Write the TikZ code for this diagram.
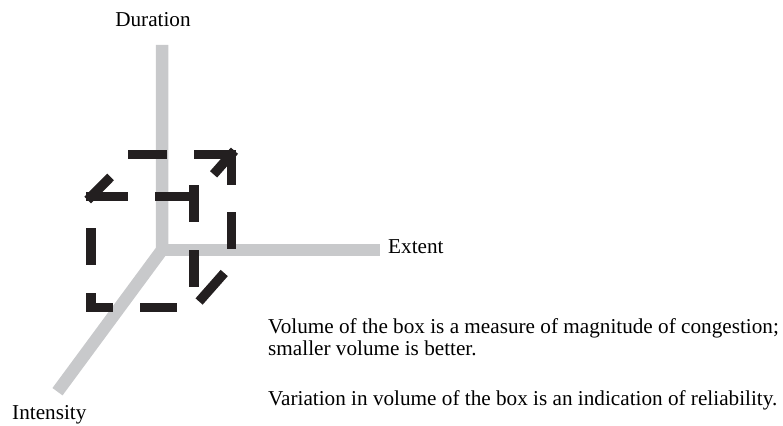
\documentclass[tikz,border=0pt]{standalone}
\usepackage{fontspec}
\setmainfont{Liberation Serif}
\usepackage{tikz}
\pgfdeclarelayer{bg}
\pgfsetlayers{bg,main}
\definecolor{axisgrey}{RGB}{200,201,203}
\definecolor{boxblack}{RGB}{35,31,32}
\tikzset{
    every node/.style={inner sep=0pt, font=\fontsize{21.2}{22}\selectfont}
}
\tikzset{axisbar/.style={draw=axisgrey, line width=12.5pt}}
\tikzset{boxedge/.style={draw=boxblack, line width=9.5pt, line cap=rect}}

\begin{document}
\begin{tikzpicture}[x=1pt, y=-1pt]
        \useasboundingbox (0,0) rectangle (783,425);
        \coordinate (o) at (162,250);
        \coordinate (dtop) at (162,45);
        \coordinate (eend) at (380,250);
        \coordinate (iend) at (57.5,391.7);
        \node (dur) [anchor=base] at (153,27) {Duration};
        \node (ext) [anchor=base west] at (388,253) {Extent};
        \node (int) [anchor=base west] at (12,419.5) {Intensity};
        \node (vol1) [anchor=base west] at (268,333) {Volume of the box is a measure of magnitude of congestion;};
        \node (vol2) [anchor=base west] at (268,355) {smaller volume is better.};
        \node (var) [anchor=base west] at (268,405) {Variation in volume of the box is an indication of reliability.};
        % corners of the box
        \coordinate (ftl) at (91,196.7);
        \coordinate (ftr) at (193.8,196.7);
        \coordinate (fbr) at (193.8,307.5);
        \coordinate (fbl) at (91,307.5);
        \coordinate (btl) at (133,154.3);
        \coordinate (btr) at (231.3,154.3);
        \coordinate (bbr) at (231.3,265);
        \begin{pgfonlayer}{bg}
                \draw [axisbar, line join=miter] (dtop) -- (o) -- (iend);
                \draw [axisbar] (o) -- (eend);
        \end{pgfonlayer}
        \draw (ftl) edge [boxedge, dash pattern=on 32.5pt off 36.25pt on 40pt off 10pt] (ftr);
        \draw ([yshift=7pt]ftr) edge [boxedge, dash pattern=on 27.5pt off 37.5pt on 27.5pt off 40pt] (fbr);
        \draw (fbl) edge [boxedge, dash pattern=on 17.25pt off 36.5pt on 27.5pt off 40pt] (fbr);
        \draw (fbl) edge [boxedge, dash pattern=on 10pt off 37.2pt on 27.5pt off 60pt] (ftl);
        \draw (ftl) edge [boxedge, dash pattern=on 23pt off 60pt] (btl);
        \draw (btl) edge [boxedge, dash pattern=on 29.5pt off 36.2pt on 40pt off 10pt] (btr);
        \draw (btr) edge [boxedge, dash pattern=on 26pt off 36.2pt on 27.8pt off 40pt] (bbr);
        \draw (btr) edge [boxedge, dash pattern=on 22pt off 60pt] (ftr);
        \draw (fbr) edge [boxedge, dash pattern=on 28.5pt off 28.1pt, dash phase=43.85pt] (bbr);
\end{tikzpicture}
\end{document}
